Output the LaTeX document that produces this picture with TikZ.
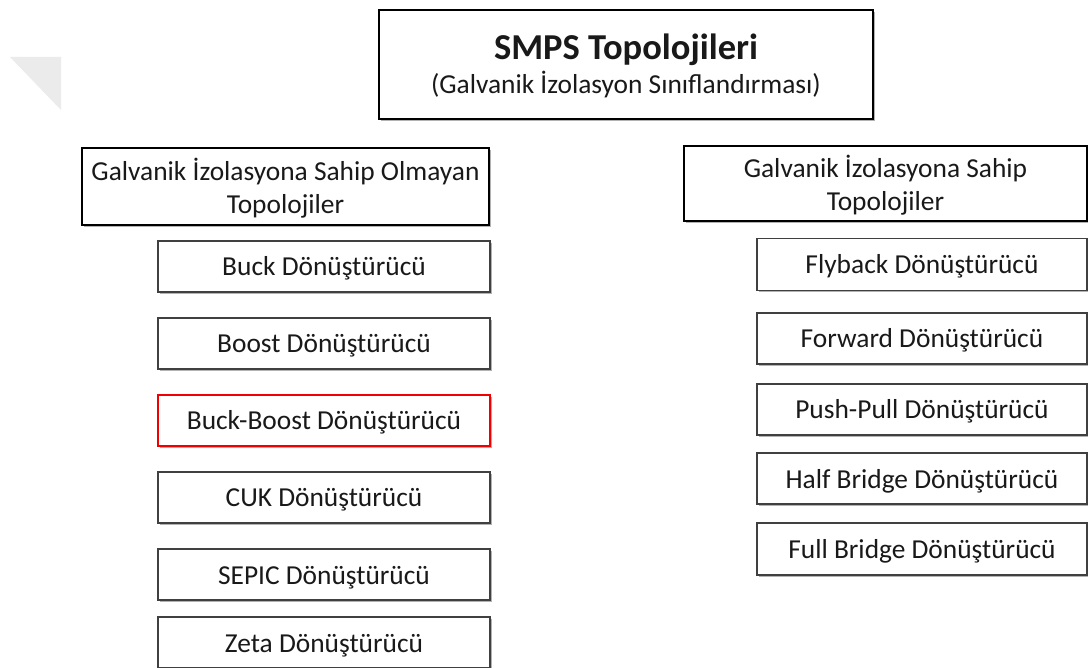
\documentclass[tikz,border=0pt]{standalone}
\usepackage{fontspec}
\setmainfont{Carlito}
\usetikzlibrary{shadows}
\begin{document}
\begin{tikzpicture}[x=1pt,y=-1pt,
  shade/.style={drop shadow={shadow xshift=1.5pt,shadow yshift=-1.8pt,opacity=0.3,fill=black}},
  titlebox/.style={draw=black,line width=2.6pt,fill=white,inner sep=0pt,shade},
  titletext/.style={anchor=base,inner sep=0pt,text=black!90},
  headbox/.style={draw=black,line width=1.8pt,fill=white,inner sep=0pt,align=center,shade,
    text=black!90,font=\fontsize{27.4}{33}\selectfont,text height=56pt,text depth=2pt},
  itembox/.style={draw=black!75,line width=1.3pt,fill=white,inner sep=0pt,shade,
    text=black!90,font=\fontsize{27.4}{33}\selectfont,text height=21pt,text depth=2pt},
  hilite/.style={itembox,draw=red!95!black,line width=2.8pt}]
\useasboundingbox (0,0) rectangle (1088,668);
\clip (0,0) rectangle (1088,668);
\fill[white] (0,0) rectangle (1088,668);
% faint corner mark
\fill[gray!16] (10,57) -- (61,57) -- (61,110) -- cycle;

% title
\node[titlebox,minimum width=494pt,minimum height=109pt] (title) at (626,64.5) {};
\node[titletext,font=\fontsize{36.5}{40}\selectfont\bfseries] (titlemain) at (626,60) {SMPS Topolojileri};
\node[titletext,font=\fontsize{27.4}{33}\selectfont] (titlesub) at (626,94) {(Galvanik İzolasyon Sınıflandırması)};

% group headers
\node[headbox,minimum width=407pt,minimum height=77pt] (nonIso) at (285.5,186.5)
  {Galvanik İzolasyona Sahip Olmayan\\Topolojiler};
\node[headbox,minimum width=403pt,minimum height=75pt] (iso) at (885.5,183.5)
  {Galvanik İzolasyona Sahip\\Topolojiler};

% non-isolated converters
\node[itembox,minimum width=332pt,minimum height=51pt] (buck)  at (324,266.5) {Buck Dönüştürücü};
\node[itembox,minimum width=332pt,minimum height=51pt] (boost) at (324,343.5) {Boost Dönüştürücü};
\node[hilite,minimum width=332pt,minimum height=51pt]  (buckboost) at (324,420.5) {Buck-Boost Dönüştürücü};
\node[itembox,minimum width=332pt,minimum height=51pt] (cuk)   at (324,497.5) {CUK Dönüştürücü};
\node[itembox,minimum width=332pt,minimum height=51pt] (sepic) at (324,574.5) {SEPIC Dönüştürücü};
\node[itembox,minimum width=332pt,minimum height=51pt] (zeta)  at (324,642.5) {Zeta Dönüştürücü};

% isolated converters
\node[itembox,minimum width=330pt,minimum height=52pt] (flyback)  at (922,264.5) {Flyback Dönüştürücü};
\node[itembox,minimum width=330pt,minimum height=51pt] (forward)  at (922,338.5) {Forward Dönüştürücü};
\node[itembox,minimum width=330pt,minimum height=51pt] (pushpull) at (922,409.5) {Push-Pull Dönüştürücü};
\node[itembox,minimum width=330pt,minimum height=51pt] (halfbr)   at (922,478.5) {Half Bridge Dönüştürücü};
\node[itembox,minimum width=330pt,minimum height=52pt] (fullbr)   at (922,549)   {Full Bridge Dönüştürücü};
\end{tikzpicture}
\end{document}
